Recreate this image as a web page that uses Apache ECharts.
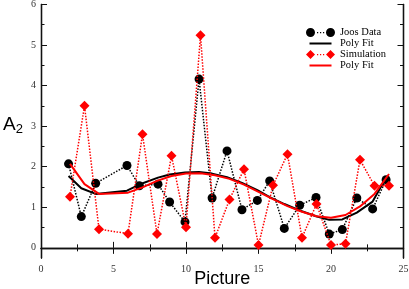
<!DOCTYPE html>
<html>
<head>
<meta charset="utf-8">
<script src="https://cdn.jsdelivr.net/npm/echarts@6/dist/echarts.min.js"></script>
<style>html,body{margin:0;padding:0;background:#fff}#c{width:409px;height:289px}</style>
</head>
<body>
<div id="c"></div>
<script>
// Joos data (x positions)
const joosX = [1.9,2.78,3.77,5.93,6.78,8.07,8.87,9.93,10.9,11.8,12.83,13.86,14.92,15.77,16.78,17.84,18.97,19.88,20.78,21.78,22.87,23.8];
const joosY = [2.07,0.77,1.59,2.03,1.53,1.57,1.13,0.64,4.16,1.23,2.39,0.94,1.17,1.65,0.48,1.05,1.24,0.34,0.45,1.23,0.96,1.68];
const joosFitY = [1.77,1.47,1.33,1.41,1.56,1.73,1.81,1.86,1.87,1.83,1.74,1.60,1.42,1.25,1.08,0.92,0.78,0.69,0.70,0.87,1.14,1.73];
// Simulation
const simX = [2,3,4,6,7,8,9,10,11,12,13,14,15,16,17,18,19,20,21,22,23,24];
const simY = [1.26,3.5,0.46,0.35,2.8,0.34,2.27,0.51,5.24,0.25,1.19,1.94,0.07,1.54,2.31,0.25,1.08,0.07,0.1,2.17,1.53,1.53];
const simFitY = [2.07,1.57,1.33,1.36,1.49,1.65,1.77,1.83,1.84,1.79,1.70,1.56,1.38,1.20,1.03,0.89,0.78,0.74,0.81,1.02,1.33,1.82];
// axis ticks
const yMajor = [0,1,2,3,4,5,6];
const yMinor = [0.5,1.5,2.5,3.5,4.5,5.5];
const names = ['Joos Data','Poly Fit','Simulation','Poly Fit '];

const pairs = (xs, ys) => xs.map((x, i) => [x, ys[i]]);
const serif = 'Liberation Serif';
const axisLine = {show: true, lineStyle: {color: '#111', width: 1.3}};

function yAx(pos, ticks, len, labels) {
  return {
    type: 'value', min: -0.25, max: 6, position: pos,
    axisLine: axisLine,
    splitLine: {show: false},
    axisTick: {show: true, inside: true, length: len, customValues: ticks, lineStyle: {color: '#111', width: 1}},
    axisLabel: labels ? {show: true, customValues: yMajor, fontFamily: serif, fontSize: 10, color: '#333', margin: 5} : {show: false}
  };
}
function xAx(pos, labels) {
  return {
    type: 'value', min: 0, max: 25, interval: 5, position: pos,
    axisLine: axisLine,
    splitLine: {show: false},
    axisTick: {show: true, inside: true, length: 6, lineStyle: {color: '#111', width: 1}},
    minorTick: {show: true, splitNumber: 2, length: 3.5, lineStyle: {color: '#111', width: 1}},
    minorSplitLine: {show: false},
    axisLabel: labels ? {fontFamily: serif, fontSize: 10, color: '#333', margin: 6} : {show: false}
  };
}

const dots = ' M11,4 h1.2 v1.2 h-1.2 Z M14,4 h1.2 v1.2 h-1.2 Z M17,4 h1.2 v1.2 h-1.2 Z';
const pad = 'M0,0 l0.01,0 l0,0.01 Z M29,9 l-0.01,0 l0,-0.01 Z ';
const iconCircle = 'path://M0,4.5 a4.5,4.5 0 1,0 9,0 a4.5,4.5 0 1,0 -9,0 Z M20,4.5 a4.5,4.5 0 1,0 9,0 a4.5,4.5 0 1,0 -9,0 Z' + dots;
const iconDiamond = 'path://M0,4.5 L4.5,0 L9,4.5 L4.5,9 Z M20,4.5 L24.5,0 L29,4.5 L24.5,9 Z' + dots;
const iconLine = 'path://' + pad + 'M3.5,3.6 h22 v1.8 h-22 Z';

const xa = xAx('bottom', true);
xa.name = 'Picture';
xa.nameLocation = 'middle';
xa.nameGap = 12;
xa.nameMoveOverlap = false;
xa.nameTextStyle = {fontFamily: 'Liberation Sans', fontSize: 18, color: '#000', verticalAlign: 'top'};

const ya = yAx('left', yMajor, 6, true);
ya.name = '{a|A}{s|2}';
ya.nameLocation = 'middle';
ya.nameRotate = 0;
ya.nameGap = 18;
ya.nameMoveOverlap = false;
ya.nameTextStyle = {
  color: '#000', padding: [0, 0, 12, 0],
  rich: {
    a: {fontFamily: 'Liberation Sans', fontSize: 19, color: '#000'},
    s: {fontFamily: 'Liberation Sans', fontSize: 13, color: '#000', verticalAlign: 'bottom', padding: [8, 0, 0, 0]}
  }
};

const chart = echarts.init(document.getElementById('c'), null, {renderer: 'canvas'});
chart.setOption({
  animation: false,
  backgroundColor: '#fff',
  grid: {left: 41, right: 5.5, top: 4.4, bottom: 31, containLabel: false, outerBoundsMode: 'none'},
  xAxis: [xa, xAx('top', false)],
  yAxis: [ya, yAx('left', yMinor, 3.5, false), yAx('right', yMajor, 6, false), yAx('right', yMinor, 3.5, false)],
  legend: {
    orient: 'vertical', left: 301, top: 22, itemWidth: 29, itemHeight: 9, itemGap: 0,
    itemStyle: {borderWidth: 0},
    textStyle: {fontFamily: serif, fontSize: 10.5, lineHeight: 10, color: '#000', padding: [0, 0, 0, 0]},
    data: [
      {name: names[0], icon: iconCircle},
      {name: names[1], icon: iconLine},
      {name: names[2], icon: iconDiamond},
      {name: names[3], icon: iconLine}
    ]
  },
  series: [
    {name: names[0], type: 'line', data: pairs(joosX, joosY), symbol: 'circle', symbolSize: 9,
     itemStyle: {color: '#000', borderWidth: 0}, lineStyle: {color: '#000', width: 1.5, type: 'dotted'}, z: 2},
    {name: names[1], type: 'line', data: pairs(joosX, joosFitY), symbol: 'none',
     itemStyle: {color: '#000'}, lineStyle: {color: '#000', width: 2}, z: 3},
    {name: names[2], type: 'line', data: pairs(simX, simY), symbol: 'diamond', symbolSize: 10,
     itemStyle: {color: '#ff0000', borderWidth: 0}, lineStyle: {color: '#ff0000', width: 1.5, type: 'dotted'}, z: 4},
    {name: names[3], type: 'line', data: pairs(simX, simFitY), symbol: 'none',
     itemStyle: {color: '#ff0000'}, lineStyle: {color: '#ff0000', width: 2}, z: 5}
  ]
});
</script>
</body>
</html>
